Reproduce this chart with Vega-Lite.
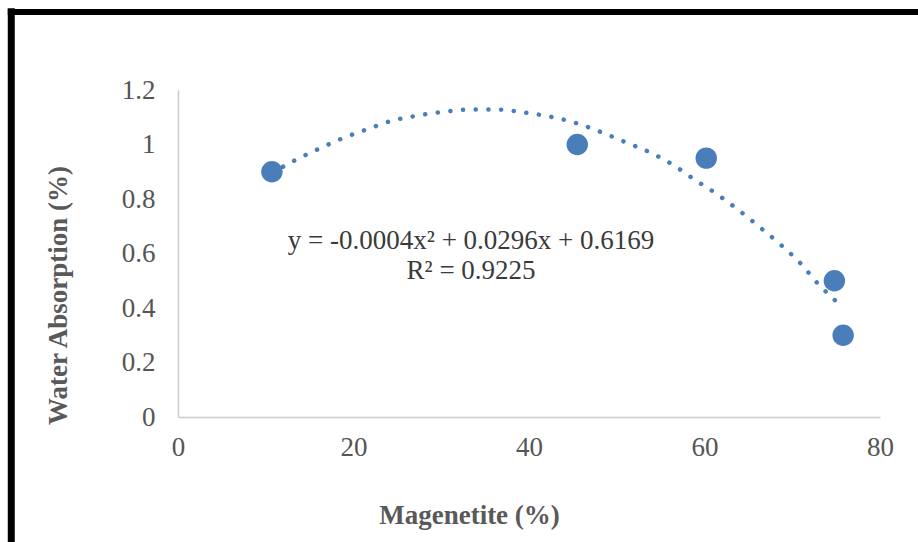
{
  "$schema": "https://vega.github.io/schema/vega-lite/v6.json",
  "width": 702,
  "height": 327,
  "autosize": {"type": "none"},
  "padding": {"left": 178, "top": 90, "right": 38, "bottom": 125},
  "background": "white",
  "config": {
    "view": {"stroke": null},
    "font": "Liberation Serif",
    "axis": {
      "ticks": false,
      "grid": false,
      "labelFlush": false,
      "labelOverlap": false,
      "domainColor": "#cccccc",
      "domainWidth": 1.5,
      "labelFont": "Liberation Serif",
      "labelFontSize": 27,
      "labelColor": "#555555",
      "titleFont": "Liberation Serif",
      "titleFontSize": 27,
      "titleFontWeight": "bold",
      "titleColor": "#595959"
    },
    "axisX": {
      "labelPadding": 17,
      "titleX": 291,
      "titleY": 98,
      "titleBaseline": "middle",
      "titleAlign": "center"
    },
    "axisY": {
      "format": "~g",
      "labelPadding": 23,
      "titleX": -120,
      "titleY": 205,
      "titleBaseline": "middle",
      "titleAlign": "center"
    }
  },
  "datasets": {
    "points": [
      {"magnetite": 10.7, "absorption": 0.90},
      {"magnetite": 45.5, "absorption": 1.00},
      {"magnetite": 60.2, "absorption": 0.95},
      {"magnetite": 74.8, "absorption": 0.50},
      {"magnetite": 75.8, "absorption": 0.30}
    ],
    "trend": [
      {"magnetite": 10.7, "absorption": 0.895},
      {"magnetite": 13.14, "absorption": 0.939},
      {"magnetite": 15.99, "absorption": 0.983},
      {"magnetite": 18.77, "absorption": 1.023},
      {"magnetite": 21.57, "absorption": 1.056},
      {"magnetite": 24.35, "absorption": 1.087},
      {"magnetite": 27.27, "absorption": 1.106},
      {"magnetite": 30.23, "absorption": 1.12},
      {"magnetite": 33.28, "absorption": 1.128},
      {"magnetite": 36.5, "absorption": 1.128},
      {"magnetite": 39.54, "absorption": 1.117},
      {"magnetite": 42.59, "absorption": 1.101},
      {"magnetite": 45.44, "absorption": 1.078},
      {"magnetite": 48.17, "absorption": 1.046},
      {"magnetite": 50.94, "absorption": 1.009},
      {"magnetite": 53.79, "absorption": 0.971},
      {"magnetite": 56.33, "absorption": 0.927},
      {"magnetite": 58.92, "absorption": 0.87},
      {"magnetite": 61.5, "absorption": 0.816},
      {"magnetite": 63.97, "absorption": 0.757},
      {"magnetite": 66.32, "absorption": 0.696},
      {"magnetite": 68.68, "absorption": 0.632},
      {"magnetite": 70.88, "absorption": 0.566},
      {"magnetite": 72.97, "absorption": 0.488},
      {"magnetite": 75.18, "absorption": 0.419}
    ],
    "labels": [
      {"magnetite": 33.4, "absorption": 0.646, "text": "y = -0.0004x² + 0.0296x + 0.6169"},
      {"magnetite": 33.4, "absorption": 0.536, "text": "R² = 0.9225"}
    ],
    "frame": [{}]
  },
  "layer": [
    {
      "data": {"name": "points"},
      "mark": {"type": "circle", "color": "#4a7ebb", "opacity": 1, "size": 460},
      "encoding": {
        "x": {"field": "magnetite", "type": "quantitative", "title": "Magenetite (%)", "scale": {"domain": [0, 80], "nice": false, "zero": false}, "axis": {"values": [0, 20, 40, 60, 80]}},
        "y": {"field": "absorption", "type": "quantitative", "title": "Water Absorption (%)", "scale": {"domain": [0, 1.2], "nice": false, "zero": false}, "axis": {"values": [0, 0.2, 0.4, 0.6, 0.8, 1, 1.2]}}
      }
    },
    {
      "data": {"name": "frame"},
      "mark": {"type": "rule", "color": "black", "strokeWidth": 7, "clip": false},
      "encoding": {
        "x": {"datum": -19.0, "type": "quantitative", "title": "Magenetite (%)", "scale": {"domain": [0, 80], "nice": false, "zero": false}, "axis": {"values": [0, 20, 40, 60, 80]}},
        "y": {"datum": 1.5, "type": "quantitative", "title": "Water Absorption (%)", "scale": {"domain": [0, 1.2], "nice": false, "zero": false}, "axis": {"values": [0, 0.2, 0.4, 0.6, 0.8, 1, 1.2]}},
        "y2": {"datum": -0.5}
      }
    },
    {
      "data": {"name": "frame"},
      "mark": {"type": "rule", "color": "black", "strokeWidth": 6, "clip": false},
      "encoding": {
        "x": {"datum": -19.4, "type": "quantitative", "title": "Magenetite (%)", "scale": {"domain": [0, 80], "nice": false, "zero": false}, "axis": {"values": [0, 20, 40, 60, 80]}},
        "x2": {"datum": 86},
        "y": {"datum": 1.486, "type": "quantitative", "title": "Water Absorption (%)", "scale": {"domain": [0, 1.2], "nice": false, "zero": false}, "axis": {"values": [0, 0.2, 0.4, 0.6, 0.8, 1, 1.2]}}
      }
    },
    {
      "data": {"name": "trend"},
      "mark": {"type": "line", "color": "#4a7ebb", "strokeWidth": 4.5, "strokeCap": "round", "strokeDash": [0.1, 12.6], "interpolate": "monotone"},
      "encoding": {
        "x": {"field": "magnetite", "type": "quantitative", "title": "Magenetite (%)", "scale": {"domain": [0, 80], "nice": false, "zero": false}, "axis": {"values": [0, 20, 40, 60, 80]}},
        "y": {"field": "absorption", "type": "quantitative", "title": "Water Absorption (%)", "scale": {"domain": [0, 1.2], "nice": false, "zero": false}, "axis": {"values": [0, 0.2, 0.4, 0.6, 0.8, 1, 1.2]}}
      }
    },
    {
      "data": {"name": "labels"},
      "mark": {"type": "text", "font": "Liberation Serif", "fontSize": 27, "color": "#3a3a3a", "align": "center", "baseline": "middle"},
      "encoding": {
        "x": {"field": "magnetite", "type": "quantitative", "title": "Magenetite (%)", "scale": {"domain": [0, 80], "nice": false, "zero": false}, "axis": {"values": [0, 20, 40, 60, 80]}},
        "y": {"field": "absorption", "type": "quantitative", "title": "Water Absorption (%)", "scale": {"domain": [0, 1.2], "nice": false, "zero": false}, "axis": {"values": [0, 0.2, 0.4, 0.6, 0.8, 1, 1.2]}},
        "text": {"field": "text"}
      }
    }
  ]
}
